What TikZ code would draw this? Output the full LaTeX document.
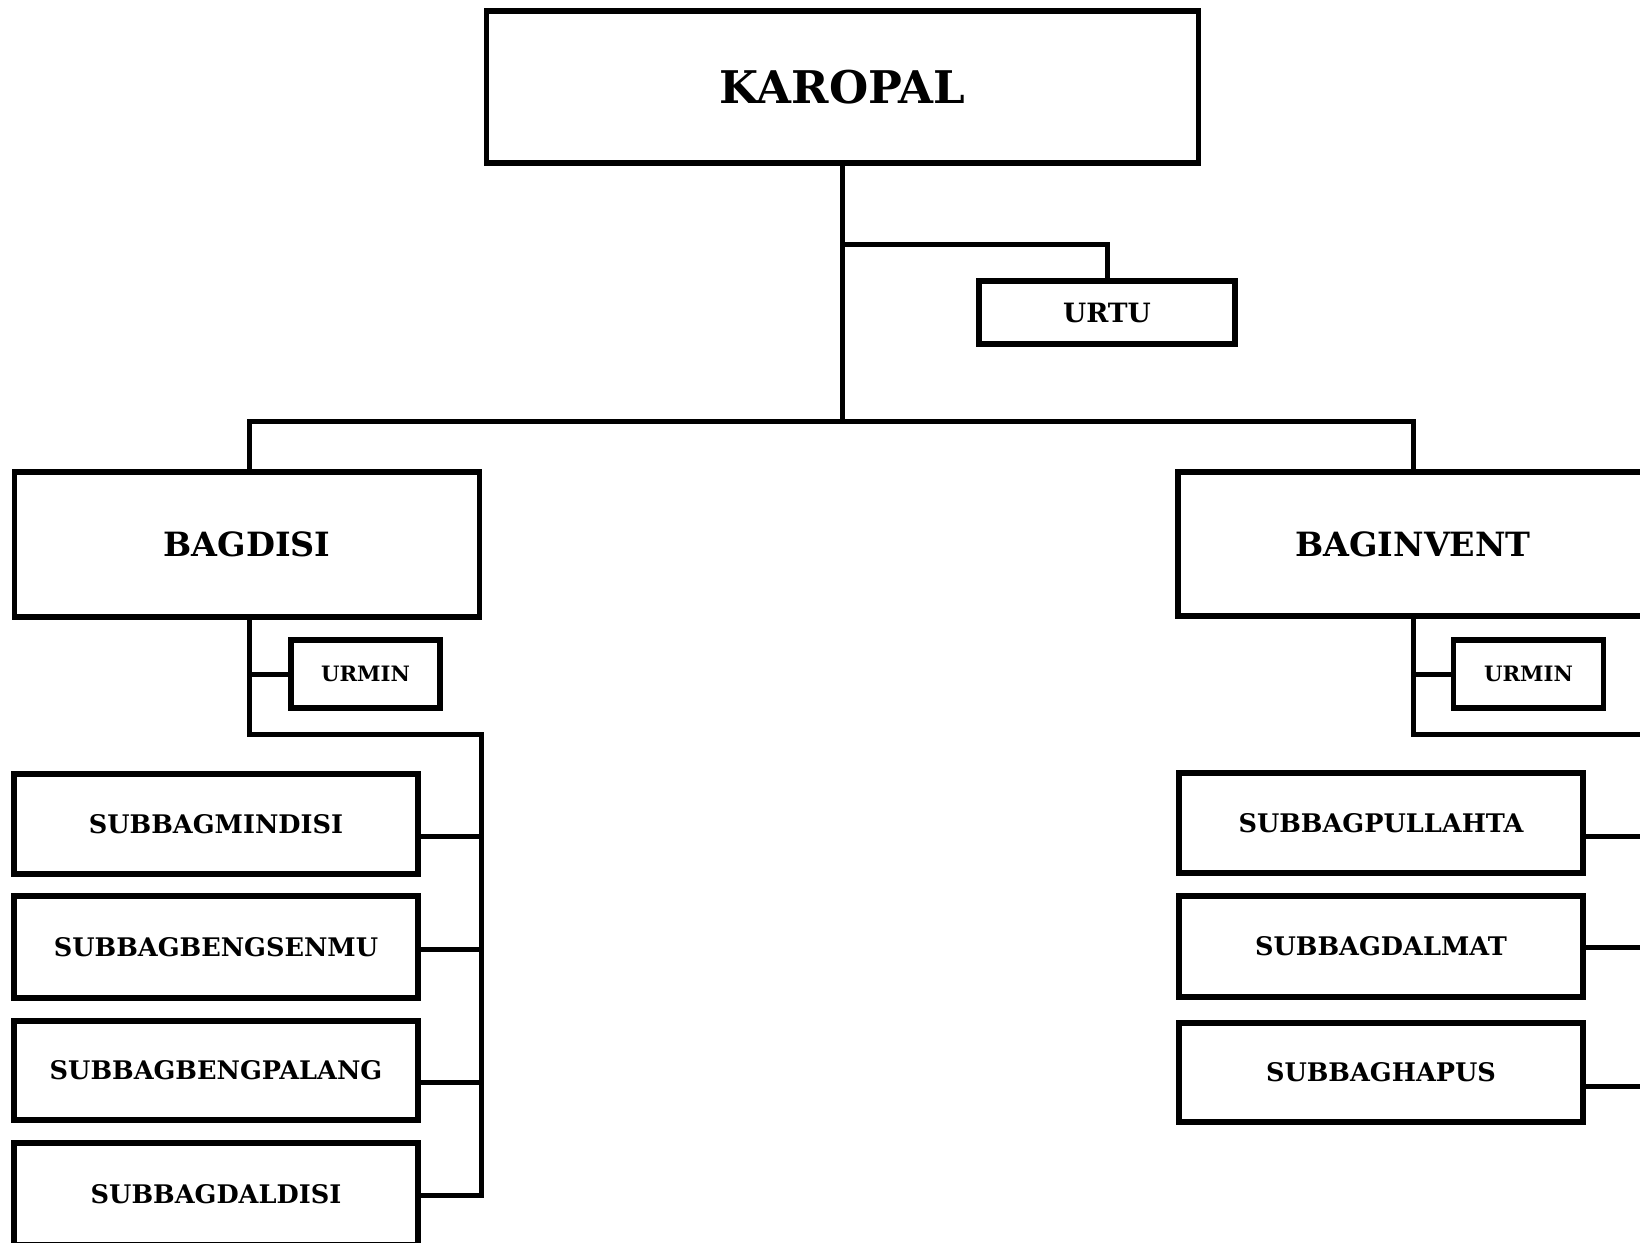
\documentclass[tikz,border=0pt]{standalone}
\usepackage{fontspec}
\setmainfont{DejaVu Serif}
\begin{document}
\begin{tikzpicture}[x=0.5pt,y=-0.5pt,
  box/.style={draw, line width=2.6pt, fill=white, inner sep=0pt, outer sep=0pt, font=\bfseries},
  conn/.style={line width=2.5pt, line cap=rect, line join=miter},
  bigf/.style={font=\fontsize{22.5}{26}\selectfont\bfseries},
  bagf/.style={font=\fontsize{16.7}{20}\selectfont\bfseries},
  urtuf/.style={font=\fontsize{13.3}{16}\selectfont\bfseries},
  subf/.style={font=\fontsize{12.8}{15}\selectfont\bfseries},
  urminf/.style={font=\fontsize{10.6}{13}\selectfont\bfseries}]
\useasboundingbox (0,0) rectangle (1640,1243);
\clip (0,0) rectangle (1640,1243);
\fill[white] (0,0) rectangle (1640,1243);

\coordinate (trunkA) at (843,244);
\coordinate (mainL) at (249,421);
\coordinate (mainR) at (1413,421);
\coordinate (busL) at (481,734);
\coordinate (busLend) at (481,1195);
\coordinate (rEdge) at (1650,734);

% nodes
\node[box, bigf, minimum width=356pt, minimum height=76pt] (karopal) at (842.5,87) {KAROPAL};
\node[box, urtuf, minimum width=128pt, minimum height=31.5pt] (urtu) at (1107,312.5) {URTU};
\node[box, bagf, minimum width=232.5pt, minimum height=72.5pt] (bagdisi) at (247,544.5) {BAGDISI};
\node[box, bagf, minimum width=235pt, minimum height=72pt] (baginvent) at (1413,544) {BAGINVENT};
\node[box, urminf, minimum width=74.5pt, minimum height=34pt] (urminL) at (365.5,674) {URMIN};
\node[box, urminf, minimum width=75pt, minimum height=34pt] (urminR) at (1528.5,674) {URMIN};

\node[box, subf, minimum width=202pt, minimum height=50pt] (s1) at (216,824) {SUBBAGMINDISI};
\node[box, subf, minimum width=202pt, minimum height=51pt] (s2) at (216,947) {SUBBAGBENGSENMU};
\node[box, subf, minimum width=202pt, minimum height=49.5pt] (s3) at (216,1070.5) {SUBBAGBENGPALANG};
\node[box, subf, minimum width=202pt, minimum height=51pt] (s4) at (216,1194) {SUBBAGDALDISI};

\node[box, subf, minimum width=202pt, minimum height=50pt] (r1) at (1381,823) {SUBBAGPULLAHTA};
\node[box, subf, minimum width=202pt, minimum height=50.5pt] (r2) at (1381,946.5) {SUBBAGDALMAT};
\node[box, subf, minimum width=202pt, minimum height=49.5pt] (r3) at (1381,1072.5) {SUBBAGHAPUS};

% top part
\draw[conn] (karopal.south) -- (karopal.south |- mainL);
\draw[conn] (trunkA) -| (urtu.north);
\draw[conn] (mainL |- bagdisi.north) -- (mainL) -- (mainR) -- (baginvent.north);

% left branch
\draw[conn] (mainL |- bagdisi.south) -- (mainL |- busL) -- (busL) -- (busLend) -- (s4.east |- busLend);
\draw[conn] (urminL.west) -- (urminL.west -| mainL);
\draw[conn] ([yshift=-6pt]s1.east) coordinate (c1) -- (c1 -| busL);
\draw[conn] ([yshift=-1pt]s2.east) coordinate (c2) -- (c2 -| busL);
\draw[conn] ([yshift=-6pt]s3.east) coordinate (c3) -- (c3 -| busL);

% right branch
\draw[conn] (baginvent.south) |- (rEdge);
\draw[conn] (urminR.west) -- (urminR.west -| baginvent.south);
\draw[conn] ([yshift=-6.5pt]r1.east) -- ++(80,0);
\draw[conn] ([yshift=-0.5pt]r2.east) -- ++(80,0);
\draw[conn] ([yshift=-7pt]r3.east) -- ++(80,0);
\end{tikzpicture}
\end{document}
